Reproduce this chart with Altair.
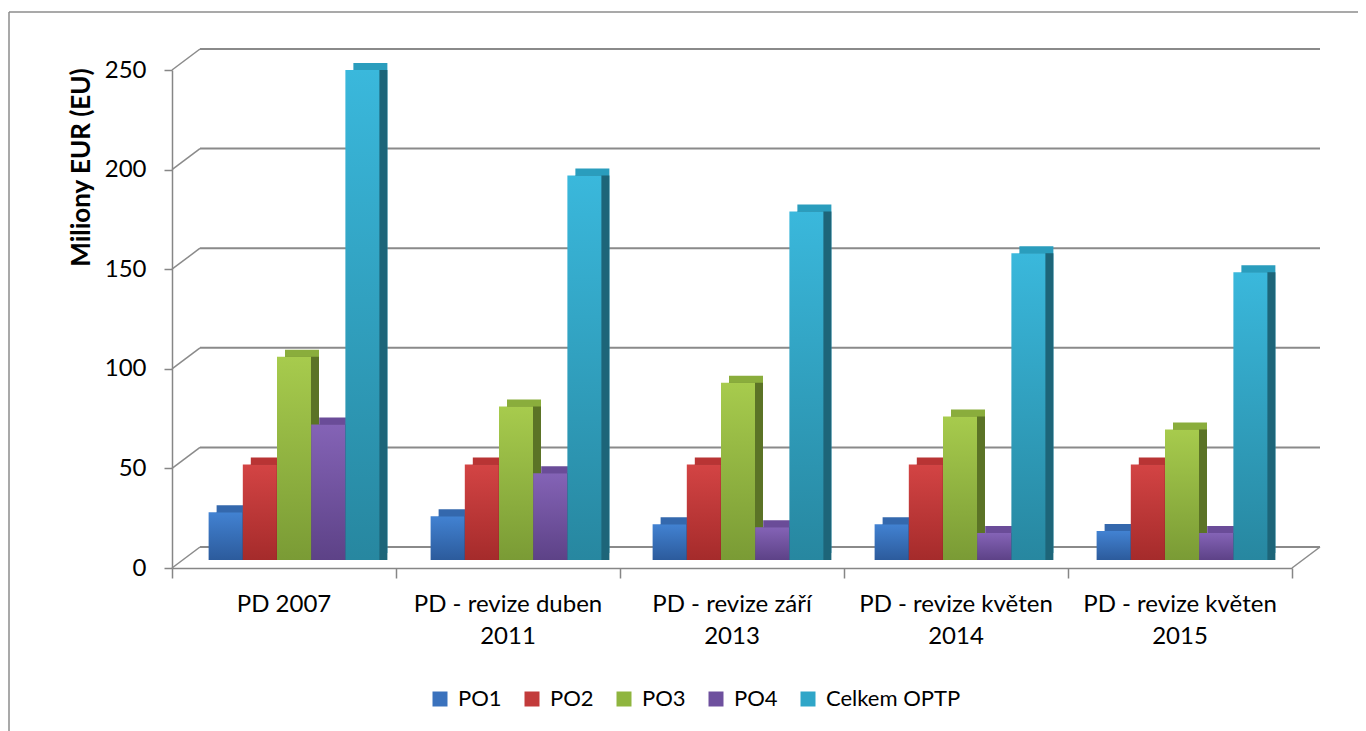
import altair as alt
import pandas as pd

categories = ["PD 2007", "PD - revize duben 2011", "PD - revize září 2013",
              "PD - revize květen 2014", "PD - revize květen 2015"]
cat_lines = ["PD 2007", "PD - revize duben\n2011", "PD - revize září\n2013",
             "PD - revize květen\n2014", "PD - revize květen\n2015"]
series = ["PO1", "PO2", "PO3", "PO4", "Celkem OPTP"]
po1 = [24, 22, 18, 18, 14.5]
po2 = [48, 48, 48, 48, 48]
po3 = [102, 77, 89, 72, 65.5]
po4 = [68, 43.5, 16.5, 13.5, 13.5]
celkem = [246, 193, 175, 154, 144.5]
y_ticks = [0, 50, 100, 150, 200, 250]

front_top = ["#4282d2", "#d34444", "#a7cb4d", "#8463b6", "#3ab8dc"]
front_bot = ["#2c5b9c", "#a52b2b", "#7a9b35", "#5d4287", "#2787a0"]
top_col = ["#3468ad", "#b83434", "#8aad3c", "#6a4c98", "#2a9dbd"]
side_col = ["#22477a", "#7a2020", "#5b7326", "#4a3470", "#1d6579"]
legend_col = ["#3a72bd", "#c23b3b", "#8fb53f", "#6e509e", "#2fa6c8"]

vals = [po1, po2, po3, po4, celkem]
rows = []
for si, s in enumerate(series):
    for ci, c in enumerate(categories):
        rows.append({"kat": c, "serie": s, "ci": ci, "si": si, "hodnota": vals[si][ci]})
df = pd.DataFrame(rows)
lab_df = pd.DataFrame({"kat": categories, "text": cat_lines})
grid_df = pd.DataFrame({"v": y_ticks})

W, H = 1120, 498
DX, DY = 28, -21
FONT = "Lato"
GRID = "#8a8a8a"
BAR_W = 34
STEP = 34.5 / (W / 5)
SHIFT = 6
BASE_Y = -8

yscale = alt.Scale(domain=[0, 250], nice=False)
xband = alt.Scale(domain=categories, paddingInner=0, paddingOuter=0)
xq = alt.Scale(domain=[0, 5], nice=False, zero=False)

x_axis = alt.Axis(
    title=None, labels=False,
    domainColor="#868686", domainWidth=1.5, tickColor="#868686", tickWidth=1.5,
    tickSize=10, tickBand="extent",
)
y_axis = alt.Axis(
    title="Miliony EUR (EU)", titleFont=FONT, titleFontSize=26, titleFontWeight="bold",
    titleColor="#000000", titleX=-83, titleY=97, titleBaseline="alphabetic",
    titleAlign="center",
    labelFont=FONT, labelFontSize=24, labelColor="#000000", values=y_ticks,
    grid=False, domainColor="#868686", domainWidth=1.5, tickColor="#868686",
    tickWidth=1.5, tickSize=8, labelPadding=18,
)

axis_layer = alt.Chart(df).mark_point(opacity=0).encode(
    x=alt.X("kat:N", sort=categories, scale=xband, axis=x_axis),
    y=alt.Y("hodnota:Q", scale=yscale, axis=y_axis),
)
labels = alt.Chart(lab_df).mark_text(
    font=FONT, fontSize=24, color="#000000", baseline="middle", lineBreak="\n",
    lineHeight=32).encode(
    x=alt.X("kat:N", sort=categories, scale=xband, axis=None),
    y=alt.value(H + 37),
    text="text:N",
)

# back wall gridlines
grid = alt.Chart(grid_df).mark_rule(color=GRID, strokeWidth=2, yOffset=DY).encode(
    x=alt.value(DX), x2=alt.value(W + DX), y=alt.Y("v:Q", scale=yscale)
)
diag = alt.Chart(grid_df).mark_rule(color=GRID, strokeWidth=1.5, y2Offset=DY).encode(
    x=alt.value(0), x2=alt.value(DX), y=alt.Y("v:Q", scale=yscale),
    y2=alt.Y2("v:Q"),
)
diag_r = alt.Chart(grid_df).transform_filter("datum.v == 0").mark_rule(
    color=GRID, strokeWidth=1.5, y2Offset=DY).encode(
    x=alt.value(W), x2=alt.value(W + DX), y=alt.Y("v:Q", scale=yscale),
    y2=alt.Y2("v:Q"),
)
# outer chart frame (left and top edges)
frame_l = alt.Chart(grid_df).transform_filter("datum.v == 0").mark_rule(
    color="#8c8c8c", strokeWidth=1.5).encode(
    x=alt.value(-163), y=alt.value(-58), y2=alt.value(H + 175))
frame_t = alt.Chart(grid_df).transform_filter("datum.v == 0").mark_rule(
    color="#8c8c8c", strokeWidth=1.5).encode(
    x=alt.value(-163), x2=alt.value(W + 70), y=alt.value(-58))

base = alt.Chart(df).transform_calculate(
    pos=f"datum.ci + 0.5 + (datum.si - 2) * {STEP}"
)
xpos = alt.X("pos:Q", scale=xq, axis=None)

legend_layer = base.mark_square(size=0, opacity=1).encode(
    x=xpos, y=alt.Y("hodnota:Q", scale=yscale),
    color=alt.Color("serie:N", sort=series,
                    scale=alt.Scale(domain=series, range=legend_col),
                    legend=alt.Legend(
                        title=None, orient="none", direction="horizontal",
                        legendX=257, legendY=618, padding=0,
                        symbolType="square", symbolSize=225, symbolStrokeWidth=0,
                        labelFont=FONT, labelFontSize=22, labelColor="#000000",
                        labelOffset=7, columnPadding=19)),
)

tops, sides, fronts = [], [], []
for i, s in enumerate(series):
    sub = base.transform_filter(alt.datum.serie == s)
    tops.append(sub.mark_bar(color=top_col[i], width=BAR_W, xOffset=SHIFT + 8,
                             yOffset=BASE_Y - 7, y2Offset=BASE_Y - 7)
                .encode(x=xpos, y=alt.Y("hodnota:Q", scale=yscale)))
    sides.append(sub.mark_bar(color=side_col[i], width=BAR_W, xOffset=SHIFT + 8,
                              yOffset=BASE_Y, y2Offset=BASE_Y)
                 .encode(x=xpos, y=alt.Y("hodnota:Q", scale=yscale)))
    grad = alt.Gradient(gradient="linear",
                        stops=[alt.GradientStop(color=front_top[i], offset=0),
                               alt.GradientStop(color=front_bot[i], offset=1)],
                        x1=0, x2=0, y1=0, y2=1)
    fronts.append(sub.mark_bar(color=grad, width=BAR_W, xOffset=SHIFT,
                               yOffset=BASE_Y, y2Offset=BASE_Y)
                  .encode(x=xpos, y=alt.Y("hodnota:Q", scale=yscale)))

chart = alt.layer(
    frame_l, frame_t, grid, diag, diag_r, axis_layer, labels, legend_layer,
    *tops, *sides, *fronts
).resolve_scale(x="independent").properties(
    width=W, height=H,
    autosize=alt.AutoSizeParams(type="none"),
    padding={"left": 164, "top": 62, "right": 66, "bottom": 163},
).configure_view(stroke=None)

chart.save("out.html", embed_options={"renderer": "svg", "actions": False})
